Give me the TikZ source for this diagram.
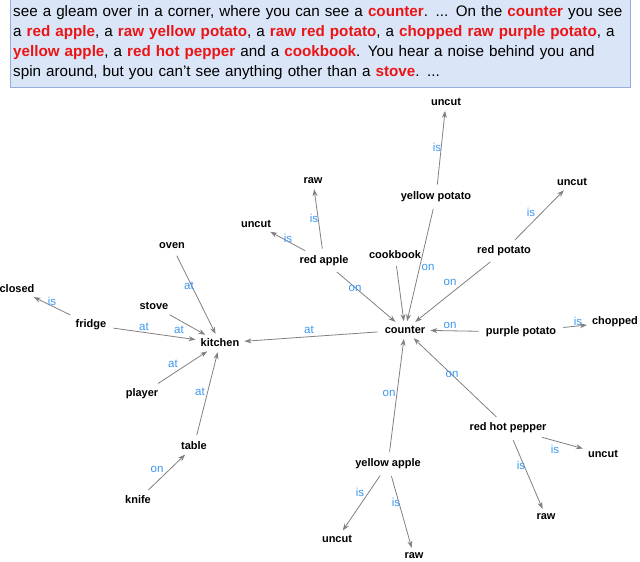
\documentclass[tikz,border=0pt]{standalone}
\usepackage{fontspec}
\setmainfont{Liberation Sans}
\usetikzlibrary{arrows.meta}
\definecolor{boxfill}{RGB}{218,230,248}
\definecolor{boxline}{RGB}{150,175,215}
\definecolor{lblue}{RGB}{60,150,240}
\definecolor{hl}{RGB}{235,20,20}
\newcommand{\hw}[1]{\textcolor{hl}{\textbf{#1}}}
\begin{document}
\begin{tikzpicture}[x=1pt,y=-1pt,
  ent/.style={font=\fontsize{11}{13}\selectfont\bfseries, inner sep=3pt},
  lbl/.style={font=\fontsize{11.5}{13}\selectfont, text=lblue, inner sep=0pt},
  rel/.style={draw=gray, line width=0.8pt, -{Stealth[length=7pt,width=5pt]}, shorten >=2pt, shorten <=4pt}]
\useasboundingbox (0,0) rectangle (640,562);
\fill[boxfill] (10,-2) rectangle (630,87);
\draw[boxline, line width=1pt] (10,-2) -- (10,87) -- (630,87) -- (630,-2);
\node[anchor=north west, align=left, text width=625pt, inner sep=0pt, font=\fontsize{15.2}{20}\selectfont] (txt) at (13,5) {see a gleam over in a corner, where you can see a \hw{counter}. ... On the \hw{counter} you see\\
a \hw{red apple}, a \hw{raw yellow potato}, a \hw{raw red potato}, a \hw{chopped raw purple potato}, a\\
\hw{yellow apple}, a \hw{red hot pepper} and a \hw{cookbook}. You hear a noise behind you and\\
spin around, but you can't see anything other than a \hw{stove}. ...};

\node[ent] (closed) at (17,289) {closed};
\node[ent] (fridge) at (91,325) {fridge};
\node[ent] (oven) at (172,246) {oven};
\node[ent] (stove) at (154,306) {stove};
\node[ent] (kitchen) at (220,343) {kitchen};
\node[ent] (player) at (142,394) {player};
\node[ent] (table) at (194,446) {table};
\node[ent] (knife) at (138,500) {knife};
\node[ent] (counter) at (405,330) {counter};
\node[ent] (redapple) at (324,261) {red apple};
\node[ent] (raw1) at (313,181) {raw};
\node[ent] (uncut1) at (256,224) {uncut};
\node[ent] (cookbook) at (395,255) {cookbook};
\node[ent] (ypotato) at (436,197) {yellow potato};
\node[ent] (uncut2) at (446,102) {uncut};
\node[ent] (rpotato) at (504,251) {red potato};
\node[ent] (uncut3) at (572,182) {uncut};
\node[ent] (ppotato) at (521,332) {purple potato};
\node[ent] (chopped) at (615,322) {chopped};
\node[ent] (pepper) at (508,428) {red hot pepper};
\node[ent] (uncut4) at (603,454) {uncut};
\node[ent] (raw2) at (546,517) {raw};
\node[ent] (yapple) at (388,464) {yellow apple};
\node[ent] (uncut5) at (337,539) {uncut};
\node[ent] (raw3) at (414,556) {raw};

\draw[rel] (fridge) -- (closed);
\draw[rel] (fridge) -- (kitchen);
\draw[rel] (oven) -- (kitchen);
\draw[rel] (stove) -- (kitchen);
\draw[rel] (player) -- (kitchen);
\draw[rel] (table) -- (kitchen);
\draw[rel] (knife) -- (table);
\draw[rel] (counter) -- (kitchen);
\draw[rel] (redapple) -- (counter);
\draw[rel] (redapple) -- (raw1);
\draw[rel] (redapple) -- (uncut1);
\draw[rel] (cookbook) -- (counter);
\draw[rel] (ypotato) -- (counter);
\draw[rel] (ypotato) -- (uncut2);
\draw[rel] (rpotato) -- (counter);
\draw[rel] (rpotato) -- (uncut3);
\draw[rel] (ppotato) -- (counter);
\draw[rel] (ppotato) -- (chopped);
\draw[rel] (pepper) -- (counter);
\draw[rel] (pepper) -- (uncut4);
\draw[rel] (pepper) -- (raw2);
\draw[rel] (yapple) -- (counter);
\draw[rel] (yapple) -- (uncut5);
\draw[rel] (yapple) -- (raw3);

\node[lbl] (l1) at (52,301) {is};
\node[lbl] (l2) at (144,327) {at};
\node[lbl] (l3) at (179,330) {at};
\node[lbl] (l4) at (189,286) {at};
\node[lbl] (l5) at (173,364) {at};
\node[lbl] (l6) at (200,392) {at};
\node[lbl] (l7) at (157,469) {on};
\node[lbl] (l8) at (309,330) {at};
\node[lbl] (l9) at (355,288) {on};
\node[lbl] (l10) at (314,218) {is};
\node[lbl] (l11) at (288,238) {is};
\node[lbl] (l12) at (428,267) {on};
\node[lbl] (l13) at (437,147) {is};
\node[lbl] (l14) at (531,212) {is};
\node[lbl] (l15) at (450,282) {on};
\node[lbl] (l16) at (450,325) {on};
\node[lbl] (l17) at (578,321) {is};
\node[lbl] (l18) at (452,374) {on};
\node[lbl] (l19) at (555,449) {is};
\node[lbl] (l20) at (521,465) {is};
\node[lbl] (l21) at (389,393) {on};
\node[lbl] (l22) at (360,492) {is};
\node[lbl] (l23) at (396,502) {is};
\end{tikzpicture}
\end{document}
